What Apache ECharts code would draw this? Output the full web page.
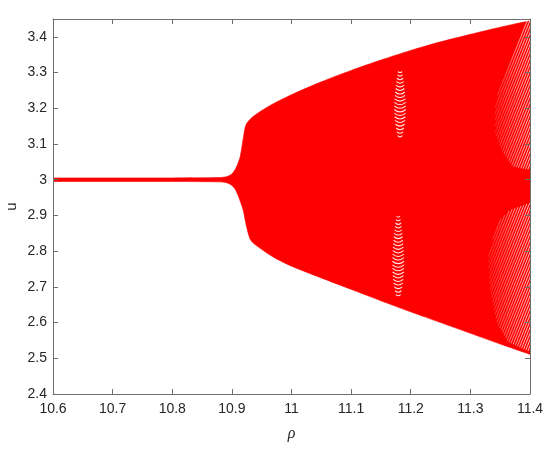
<!DOCTYPE html>
<html><head><meta charset="utf-8">
<script src="https://cdn.jsdelivr.net/npm/echarts/dist/echarts.min.js"></script>
<style>html,body{margin:0;padding:0;background:#fff}#c{width:550px;height:450px}#err{position:absolute;left:60px;top:30px;font:11px sans-serif;color:#000;width:460px;white-space:pre-wrap}</style>
</head><body><div id="c"></div><div id="err"></div><script>
// Envelope of the bifurcation diagram
const rho = [10.6, 10.7, 10.8, 10.88, 10.89, 10.895, 10.9, 10.905, 10.91, 10.914, 10.919, 10.922, 10.925, 10.93, 10.935, 10.944, 10.955, 10.972, 11.0, 11.05, 11.1, 11.15, 11.2, 11.25, 11.3, 11.35, 11.4];
const upperU = [3.005, 3.005, 3.005, 3.006, 3.008, 3.011, 3.016, 3.027, 3.045, 3.065, 3.115, 3.145, 3.158, 3.168, 3.176, 3.187, 3.199, 3.215, 3.238, 3.274, 3.306, 3.335, 3.362, 3.386, 3.407, 3.427, 3.445];
const lowerU = [2.995, 2.995, 2.995, 2.994, 2.992, 2.989, 2.984, 2.975, 2.958, 2.94, 2.915, 2.89, 2.866, 2.836, 2.824, 2.812, 2.799, 2.781, 2.758, 2.725, 2.693, 2.661, 2.630, 2.600, 2.570, 2.540, 2.511];

// White gaps near rho = 11.18
const upperArcRho = 11.182;
const upperArcU = [3.300, 3.290, 3.280, 3.270, 3.260, 3.250, 3.240, 3.230, 3.220, 3.210, 3.200, 3.190, 3.180, 3.170, 3.160, 3.150, 3.140, 3.130, 3.120];
const upperArcHalfW = [0.0034, 0.0043, 0.0052, 0.0060, 0.0067, 0.0074, 0.0080, 0.0086, 0.0091, 0.0095, 0.0097, 0.0097, 0.0095, 0.0090, 0.0084, 0.0075, 0.0065, 0.0053, 0.0040];
const lowerArcRho = 11.179;
const lowerArcU = [2.895, 2.885, 2.875, 2.865, 2.855, 2.845, 2.835, 2.825, 2.815, 2.805, 2.795, 2.785, 2.775, 2.765, 2.755, 2.745, 2.735, 2.725, 2.715, 2.705, 2.695, 2.685, 2.675];
const lowerArcHalfW = [0.0029, 0.0038, 0.0047, 0.0054, 0.0061, 0.0067, 0.0073, 0.0078, 0.0083, 0.0087, 0.0091, 0.0094, 0.0096, 0.0097, 0.0097, 0.0096, 0.0094, 0.0090, 0.0084, 0.0076, 0.0066, 0.0054, 0.0040];

// White stripes near rho = 11.4 (upper part)
const upStripeStartRho = [11.3453, 11.3413, 11.3413, 11.3413, 11.3413, 11.3413, 11.3433, 11.3454, 11.3475, 11.3496, 11.3517, 11.3538, 11.3562, 11.3589, 11.3616, 11.3643, 11.3670, 11.3696, 11.3727, 11.3767, 11.3805, 11.3846, 11.3884, 11.3923, 11.3963];
const upStripeStartU = [3.2361, 3.2018, 3.1843, 3.1668, 3.1493, 3.1318, 3.1227, 3.1140, 3.1052, 3.0964, 3.0877, 3.0790, 3.0714, 3.0653, 3.0591, 3.0527, 3.0465, 3.0401, 3.0356, 3.0345, 3.0331, 3.0319, 3.0308, 3.0297, 3.0286];
const upStripeEndRho = [11.4017, 11.4017, 11.4017, 11.4017, 11.4017, 11.4017, 11.4017, 11.4017, 11.4017, 11.4017, 11.4017, 11.4017, 11.4017, 11.4017, 11.4017, 11.4017, 11.4017, 11.4017, 11.4017, 11.4017, 11.4017, 11.4017, 11.4017, 11.4017, 11.4017];
const upStripeEndU = [3.4714, 3.4539, 3.4364, 3.4189, 3.4014, 3.3839, 3.3664, 3.3489, 3.3314, 3.3139, 3.2964, 3.2789, 3.2613, 3.2438, 3.2263, 3.2088, 3.1913, 3.1738, 3.1563, 3.1388, 3.1213, 3.1038, 3.0863, 3.0688, 3.0513];

// White stripes near rho = 11.4 (lower part)
const loStripeStartRho = [11.3374, 11.3296, 11.3301, 11.3307, 11.3312, 11.3317, 11.3324, 11.3329, 11.3343, 11.3358, 11.3373, 11.3386, 11.3401, 11.3416, 11.3430, 11.3445, 11.3468, 11.3493, 11.3519, 11.3542, 11.3567, 11.3592, 11.3618, 11.3646, 11.3681, 11.3718, 11.3753, 11.3789, 11.3824, 11.3859, 11.3894, 11.3931, 11.3966];
const loStripeStartU = [2.8333, 2.7832, 2.7681, 2.7527, 2.7375, 2.7224, 2.7070, 2.6919, 2.6804, 2.6689, 2.6574, 2.6459, 2.6345, 2.6230, 2.6118, 2.6003, 2.5927, 2.5854, 2.5782, 2.5711, 2.5639, 2.5569, 2.5496, 2.5445, 2.5417, 2.5392, 2.5364, 2.5336, 2.5311, 2.5283, 2.5255, 2.5230, 2.5202];
const loStripeEndRho = [11.3509, 11.3577, 11.3648, 11.3701, 11.3750, 11.3799, 11.3847, 11.3896, 11.3945, 11.3995, 11.4017, 11.4017, 11.4017, 11.4017, 11.4017, 11.4017, 11.4017, 11.4017, 11.4017, 11.4017, 11.4017, 11.4017, 11.4017, 11.4017, 11.4017, 11.4017, 11.4017, 11.4017, 11.4017, 11.4017, 11.4017, 11.4017, 11.4017];
const loStripeEndU = [2.8894, 2.9008, 2.9126, 2.9177, 2.9204, 2.9232, 2.9261, 2.9289, 2.9319, 2.9347, 2.9266, 2.9091, 2.8916, 2.8741, 2.8566, 2.8391, 2.8216, 2.8041, 2.7866, 2.7690, 2.7515, 2.7340, 2.7165, 2.6990, 2.6815, 2.6640, 2.6465, 2.6290, 2.6115, 2.5940, 2.5765, 2.5590, 2.5415];

const xMin = 10.6, xMax = 11.4, xStep = 0.1;
const yMin = 2.4, yMax = 3.45, yStep = 0.1;
const arcRise = 0.005;

const upperData = rho.map((r, i) => [r, upperU[i]]);
const lowerData = rho.map((r, i) => [r, lowerU[i]]);

function arcs(center, us, hws) {
  const out = [];
  us.forEach((u, i) => {
    const hw = hws[i];
    const rise = arcRise * hw / 0.0085 + 0.001;
    out.push([center - hw, u + rise], [center, u], [center + hw, u + rise], [NaN, NaN]);
  });
  return out;
}
function stripes(sr, su, er, eu) {
  const out = [];
  sr.forEach((r, i) => { out.push([r, su[i]], [er[i], eu[i]], [NaN, NaN]); });
  return out;
}
const log = m => { document.getElementById('err').textContent += m + '\n'; };

try {
const axisColor = '#6e6e6e';
const font = "'Liberation Sans', Arial, Helvetica, sans-serif";
const chart = echarts.init(document.getElementById('c'));
const mkFade = () => new echarts.graphic.LinearGradient(0, 0, 1, 0, [
  {offset: 0, color: 'rgba(255,255,255,0.1)'},
  {offset: 0.6, color: 'rgba(255,255,255,0.55)'},
  {offset: 1, color: 'rgba(255,255,255,0.8)'}
]);
const axisCommon = {
  axisLine: {show: true, onZero: false, lineStyle: {color: axisColor, width: 1}},
  axisTick: {show: true, inside: true, length: 5, lineStyle: {color: axisColor}},
  splitLine: {show: false}, z: 10
};
chart.setOption({
  animation: false,
  backgroundColor: '#fff',
  grid: {left: 53, right: 20, top: 19, bottom: 56, outerBoundsMode: 'none'},
  xAxis: [Object.assign({
    type: 'value', min: xMin, max: xMax, interval: xStep,
    name: 'ρ', nameLocation: 'middle', nameGap: 32,
    nameTextStyle: {fontFamily: "'Liberation Serif', 'DejaVu Serif', serif", fontStyle: 'italic', fontSize: 16, color: '#262626'},
    axisLabel: {fontFamily: font, fontSize: 14, color: '#262626', margin: 8}
  }, axisCommon), Object.assign({
    type: 'value', position: 'top', min: xMin, max: xMax, interval: xStep,
    axisLabel: {show: false}
  }, axisCommon)],
  yAxis: [Object.assign({
    type: 'value', min: yMin, max: yMax, interval: yStep,
    name: 'u', nameLocation: 'middle', nameGap: 34, nameMoveOverlap: false,
    nameTextStyle: {fontFamily: font, fontSize: 15, color: '#262626'},
    axisLabel: {fontFamily: font, fontSize: 14, color: '#262626', margin: 6, showMaxLabel: false,
      formatter: v => String(Math.round(v * 10) / 10)}
  }, axisCommon), Object.assign({
    type: 'value', position: 'right', min: yMin, max: yMax, interval: yStep,
    axisLabel: {show: false}
  }, axisCommon)],
  series: [
    {type: 'line', data: upperData, symbol: 'none', silent: true,
     smooth: 0.25, lineStyle: {width: 0.6, color: '#ff0000'},
     areaStyle: {color: '#ff0000', opacity: 1, origin: 'start'}},
    {type: 'line', data: lowerData, symbol: 'none', silent: true,
     smooth: 0.25, lineStyle: {width: 0.6, color: '#ff0000'},
     areaStyle: {color: '#ffffff', opacity: 1, origin: 'start'}},
    {type: 'line', data: arcs(upperArcRho, upperArcU, upperArcHalfW), symbol: 'none', silent: true,
     smooth: true, connectNulls: false, lineStyle: {color: 'rgba(255,255,255,0.9)', width: 1.1}},
    {type: 'line', data: arcs(lowerArcRho, lowerArcU, lowerArcHalfW), symbol: 'none', silent: true,
     smooth: true, connectNulls: false, lineStyle: {color: 'rgba(255,255,255,0.9)', width: 1.1}},
    {type: 'line', data: stripes(upStripeStartRho, upStripeStartU, upStripeEndRho, upStripeEndU), symbol: 'none', silent: true,
     connectNulls: false, lineStyle: {color: mkFade(), width: 1}},
    {type: 'line', data: stripes(loStripeStartRho, loStripeStartU, loStripeEndRho, loStripeEndU), symbol: 'none', silent: true,
     connectNulls: false, lineStyle: {color: mkFade(), width: 1}}
  ]
});
} catch (e) { log('ERR ' + e.message + '\n' + e.stack); }
window.onerror = (m) => log('onerror ' + m);
</script></body></html>
